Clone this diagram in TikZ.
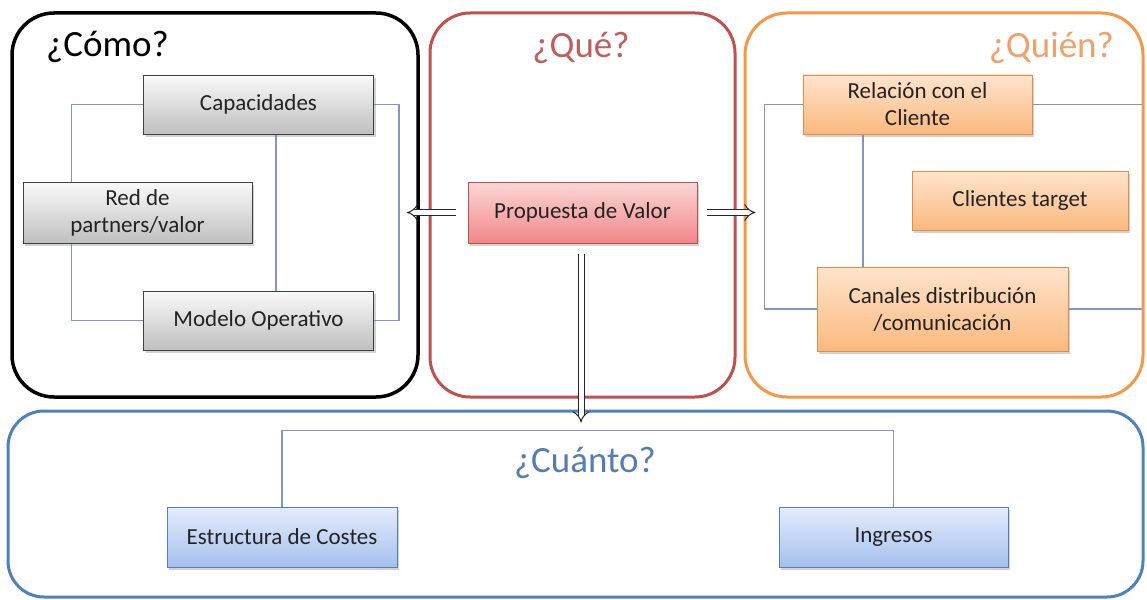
\documentclass[tikz,border=0pt]{standalone}
\usepackage{fontspec}
\setmainfont{Carlito}
\usetikzlibrary{arrows.meta,shadows,backgrounds,calc}
\pgfdeclarelayer{bottom}
\pgfsetlayers{bottom,background,main}
\definecolor{queRed}{RGB}{192,80,77}
\definecolor{queTitle}{RGB}{190,95,95}
\definecolor{quienOr}{RGB}{247,150,70}
\definecolor{quienTitle}{RGB}{240,160,105}
\definecolor{cuBlue}{RGB}{79,129,189}
\definecolor{cuTitle}{RGB}{85,125,180}
\definecolor{connC}{RGB}{130,150,195}
\definecolor{pinkTop}{RGB}{252,215,215}
\definecolor{pinkBot}{RGB}{240,135,135}
\definecolor{orTop}{RGB}{255,228,205}
\definecolor{orBot}{RGB}{250,185,125}
\definecolor{orBorder}{RGB}{225,140,75}
\definecolor{blTop}{RGB}{228,236,252}
\definecolor{blBot}{RGB}{165,192,238}
\definecolor{txt}{RGB}{35,35,35}
\tikzset{
  frame/.style={draw, line width=3pt, rounded corners=42pt},
  title/.style={font=\fontsize{37}{40}\selectfont, inner sep=0pt},
  box/.style={draw, line width=0.9pt, inner sep=2pt, align=center, text=txt,
    font=\fontsize{23}{27}\selectfont,
    drop shadow={shadow xshift=2pt, shadow yshift=-3pt, opacity=0.35}},
  graybox/.style={box, draw=black!75, top color=gray!4, bottom color=gray!50},
  pinkbox/.style={box, draw=queRed, top color=pinkTop, bottom color=pinkBot},
  orbox/.style={box, draw=orBorder, top color=orTop, bottom color=orBot},
  blbox/.style={box, draw=cuBlue, top color=blTop, bottom color=blBot},
  conn/.style={draw=connC, line width=1.1pt},
  hollow/.style={draw=black!85, double=white, double distance=5pt, line width=1pt, -{Implies}}
}
\begin{document}
\begin{tikzpicture}[x=1pt,y=-1pt]
\begin{pgfonlayer}{bottom}
\fill[white] (0,0) rectangle (1147,599);
\end{pgfonlayer}
\useasboundingbox (0,0) rectangle (1147,599);
% frames
\node[frame, draw=black, line width=3.5pt, minimum width=406pt, minimum height=384pt] (como) at (215,205) {};
\node[frame, draw=queRed, rounded corners=40pt, minimum width=305pt, minimum height=384pt] (que) at (582.5,205) {};
\node[frame, draw=quienOr, minimum width=398pt, minimum height=384pt] (quien) at (944,205) {};
\node[frame, draw=cuBlue, rounded corners=36pt, minimum width=1135pt, minimum height=186pt] (cuanto) at (575.5,504) {};
% titles
\node[title, anchor=base west, text=black] (tcomo) at (46,57) {¿Cómo?};
\node[title, anchor=base, text=queTitle] (tque) at (581,58) {¿Qué?};
\node[title, anchor=base east, text=quienTitle] (tquien) at (1114,58) {¿Quién?};
\node[title, anchor=base, text=cuTitle] (tcuanto) at (585,472) {¿Cuánto?};
% boxes
\node[graybox, minimum width=230pt, minimum height=59pt] (cap) at (258.5,104.5) {Capacidades};
\node[graybox, minimum width=229pt, minimum height=61pt] (red) at (137.5,212.5) {Red de\\partners/valor};
\node[graybox, minimum width=230pt, minimum height=59pt] (mod) at (258.5,320.5) {Modelo Operativo};
\node[pinkbox, minimum width=229pt, minimum height=61pt] (pv) at (582.5,212.5) {Propuesta de Valor};
\node[orbox, minimum width=229pt, minimum height=59pt] (rel) at (917.5,104.5) {Relación con el\\Cliente};
\node[orbox, minimum width=216pt, minimum height=59pt] (ct) at (1020,200.5) {Clientes target};
\node[orbox, minimum width=251pt, minimum height=84pt] (can) at (942.5,309) {Canales distribución\\/comunicación};
\node[blbox, minimum width=230pt, minimum height=60pt] (est) at (282,537) {Estructura de Costes};
\node[blbox, minimum width=229pt, minimum height=60pt] (ing) at (893.5,537) {Ingresos};
% connectors
\begin{pgfonlayer}{background}
\draw[conn] (cap.west) -- ++(-72,0) |- (mod.west);
\draw[conn] (cap.east) -- ++(25,0) |- (mod.east);
\draw[conn] ([xshift=17.5pt]cap.south) -- ([xshift=17.5pt]mod.north);
\draw[conn] (rel.west) -- ++(-38,0) |- (can.west);
\draw[conn] (rel.east) -- ++(111,0) |- (can.east);
\draw[conn] ([xshift=-54.5pt]rel.south) -- ([xshift=-54.5pt]rel.south |- can.north);
\draw[conn] (est.north) -- ++(0,-76) -| (ing.north);
\end{pgfonlayer}
% hollow arrows
\coordinate (lend) at ($(como.east)+(-13,7.5)$);
\coordinate (rend) at ($(quien.west)+(12,7.5)$);
\coordinate (dend) at ($(cuanto.north)+(5.5,13)$);
\draw[hollow] ([xshift=-12pt]pv.west) -- (lend);
\draw[hollow] ([xshift=10pt]pv.east) -- (rend);
\draw[hollow] ([yshift=-11pt]pv.south -| dend) -- (dend);
\end{tikzpicture}
\end{document}
